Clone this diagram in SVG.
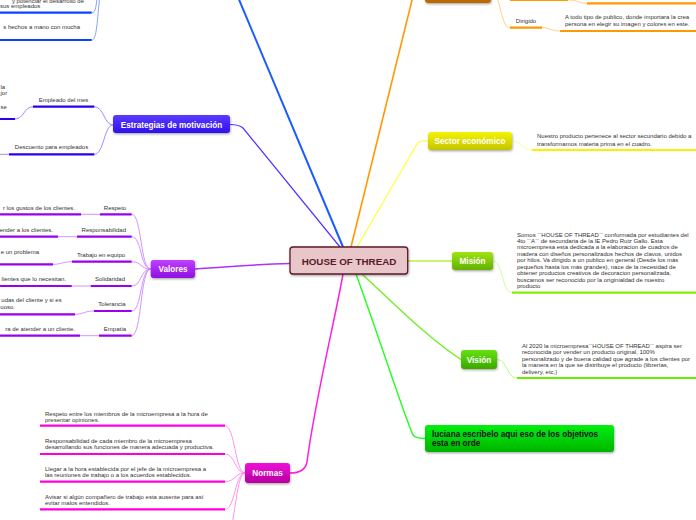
<svg xmlns="http://www.w3.org/2000/svg" width="696" height="520" viewBox="0 0 696 520">
<defs>
<linearGradient id="gBlue" x1="0" y1="0" x2="0" y2="1"><stop offset="0" stop-color="#5a3cff"/><stop offset="1" stop-color="#3010ee"/></linearGradient>
<linearGradient id="gPurple" x1="0" y1="0" x2="0" y2="1"><stop offset="0" stop-color="#c040ff"/><stop offset="1" stop-color="#8f10e0"/></linearGradient>
<linearGradient id="gPink" x1="0" y1="0" x2="0" y2="1"><stop offset="0" stop-color="#f010d8"/><stop offset="1" stop-color="#b800a0"/></linearGradient>
<linearGradient id="gYellow" x1="0" y1="0" x2="0" y2="1"><stop offset="0" stop-color="#f4f400"/><stop offset="1" stop-color="#c4c400"/></linearGradient>
<linearGradient id="gMision" x1="0" y1="0" x2="0" y2="1"><stop offset="0" stop-color="#a0e410"/><stop offset="1" stop-color="#62b000"/></linearGradient>
<linearGradient id="gVision" x1="0" y1="0" x2="0" y2="1"><stop offset="0" stop-color="#66e010"/><stop offset="1" stop-color="#3aa800"/></linearGradient>
<linearGradient id="gGreen" x1="0" y1="0" x2="0" y2="1"><stop offset="0" stop-color="#00f010"/><stop offset="1" stop-color="#00b400"/></linearGradient>
<linearGradient id="gOrange" x1="0" y1="0" x2="0" y2="1"><stop offset="0" stop-color="#d88000"/><stop offset="1" stop-color="#b86800"/></linearGradient>
<filter id="sh" x="-10%" y="-20%" width="120%" height="160%"><feDropShadow dx="0.6" dy="1.2" stdDeviation="0.8" flood-color="#000" flood-opacity="0.35"/></filter>
</defs>
<style>
.t{font-family:"Liberation Sans",Arial,sans-serif;font-size:6px;fill:#333}
.lb{font-family:"Liberation Sans",Arial,sans-serif;font-size:6px;fill:#333;text-anchor:middle}
.n{font-family:"Liberation Sans",Arial,sans-serif;font-size:8.2px;font-weight:bold;fill:#fff;text-anchor:middle}
.c{fill:none}
.ul{fill:none;stroke-width:2.2}
.sc{fill:none;stroke-width:0.9}
</style>
<rect width="696" height="520" fill="#fff"/>

<g id="connectors">
<path class="c" d="M343,247 L235,-10" stroke="#1a5cff" stroke-width="2"/>
<path class="c" d="M351,247 L414,-8" stroke="#ff9900" stroke-width="1.6"/>
<path class="c" d="M340,247 L243,128 Q239,124.5 230,124.5" stroke="#5533ff" stroke-width="1.2"/>
<path class="c" d="M357,247 L417,144 Q419,141 424,141 L428,141" stroke="#ffff33" stroke-width="1.2"/>
<path class="c" d="M407.7,261 L452,261" stroke="#b8ee44" stroke-width="1.6"/>
<path class="c" d="M362,274 C390,300 430,340 461,359.5" stroke="#70ee20" stroke-width="1.3"/>
<path class="c" d="M356,274 C380,340 405,418 413,435 Q416,438.5 425,438.5" stroke="#22ff22" stroke-width="1.4"/>
<path class="c" d="M343,274 C335,320 315,400 307,462 Q305,473 290,473" stroke="#ff22dd" stroke-width="1.5"/>
<path class="c" d="M290,263.5 C250,264.5 225,267.5 195,269" stroke="#b030ff" stroke-width="1.5"/>

<path class="sc" d="M91.7,12.7 C96,12.7 96,5 97.5,-5" stroke="#7799ff"/>
<path class="sc" d="M91.7,40 C97,40 97,20 100,-5" stroke="#7799ff"/>
<path class="ul" d="M0,12.7 H91.7 M0,40 H91.7" stroke="#0a44ff"/>

<path class="sc" d="M491,-8 C501,-8 500,27.7 510,27.7" stroke="#ffcc77"/>
<path class="sc" d="M568,0 C578,0 578,3.3 587,3.3 M542,27.7 C551,27.7 551,31 560,31" stroke="#ffcc77"/>
<path class="ul" d="M510,0 H568 M587,3.3 H696 M510,27.7 H542 M560,31 H696" stroke="#ff9900"/>

<path class="sc" d="M94.3,106.7 C104,106.7 104,125 113,125 M94.3,154.3 C104,154.3 104,125 113,125" stroke="#8f80ff"/>
<path class="sc" d="M15,119 C24,119 24,106.7 33,106.7 M0,154.3 H9" stroke="#8f80ff"/>
<path class="ul" d="M33,106.7 H94.3 M9,154.3 H94.3 M0,119 H15" stroke="#2a00ee"/>

<path class="sc" d="M512,141 C522,141 522,150 532,150" stroke="#ffff77"/>
<path class="ul" d="M532,150 H696" stroke="#ffee00"/>

<path class="sc" d="M493,261 C503,261 502,292.7 512,292.7" stroke="#ccff88"/>
<path class="ul" d="M512,292.7 H696" stroke="#88ee00"/>
<path class="sc" d="M497,359.5 C507,359.5 507,378 517,378" stroke="#aaff66"/>
<path class="ul" d="M517,378 H696" stroke="#66ee00"/>

<path class="sc" d="M131.7,214.3 C142,214.3 140,269 150.7,269 M131.7,236.7 C142,236.7 140,269 150.7,269 M131.7,261.7 C142,261.7 140,269 150.7,269 M131.7,286 C142,286 140,269 150.7,269 M131.7,311 C142,311 140,269 150.7,269 M131.7,335.7 C142,335.7 140,269 150.7,269" stroke="#cc88ff"/>
<path class="sc" d="M81,214.3 H100 M58,236.7 H77 M53,264.3 C62,264.3 62,261.7 72,261.7 M71.7,286 H90.7 M75,314.3 C84,314.3 84,311 94,311 M80,335.7 H99" stroke="#cc88ff"/>
<path class="ul" d="M100,214.3 H131.7 M77,236.7 H131.7 M72,261.7 H131.7 M90.7,286 H131.7 M94,311 H131.7 M99,335.7 H131.7 M0,214.3 H81 M0,236.7 H58 M0,264.3 H53 M0,286 H71.7 M0,314.3 H75 M0,335.7 H80" stroke="#9a00ee"/>

<path class="sc" d="M245,473 C235,473 235,425.7 225,425.7 M245,473 C235,473 235,454 225,454 M245,473 C235,473 235,481.7 225,481.7 M245,473 C235,473 235,509.3 225,509.3 M245,473 C235,473 235,540 225,540" stroke="#ff88ee"/>
<path class="ul" d="M40,425.7 H225 M40,454 H225 M40,481.7 H225 M40,509.3 H225" stroke="#ff00dd"/>
</g>

<g id="center">
<rect x="290" y="247" width="117.7" height="27" rx="3" fill="#e8c6ca" stroke="#5c1a28" stroke-width="1.3" filter="url(#sh)"/>
<text x="349" y="264.6" font-family="Liberation Sans, Arial, sans-serif" font-size="9.8" font-weight="bold" fill="#5a1a28" text-anchor="middle">HOUSE OF THREAD</text>
</g>

<g id="node-orange">
<rect x="425" y="-15" width="66" height="18" rx="3" fill="url(#gOrange)" filter="url(#sh)"/>
</g>
<g id="orange-children">
<text class="lb" x="526" y="22.7">Dirigido</text>
<text class="t" x="565" y="18.7">A todo tipo de publico, donde importara la crea</text>
<text class="t" x="565" y="26">persona en elegir su imagen y colores en este.</text>
</g>

<g id="blue-children">
<text class="t" x="84" y="2.5" text-anchor="end">y potenciar el desarrollo de</text>
<text class="t" x="0" y="8">sus empleados</text>
<text class="t" x="80" y="28.7" text-anchor="end">s hechos a mano con mucha</text>
</g>

<g id="node-estrategias">
<rect x="113" y="115" width="117" height="18" rx="3" fill="url(#gBlue)" filter="url(#sh)"/>
<text class="n" x="171.5" y="127.8">Estrategias de motivación</text>
</g>
<g id="estrategias-children">
<text class="lb" x="63.5" y="102">Empleado del mes</text>
<text class="lb" x="51.5" y="148.7">Descuento para empleados</text>
<text class="t" x="0.5" y="88.7">la</text>
<text class="t" x="0.5" y="95.3">jor</text>
<text class="t" x="0.5" y="108.7">se</text>
</g>

<g id="node-sector">
<rect x="428" y="132" width="84" height="18" rx="3" fill="url(#gYellow)" filter="url(#sh)"/>
<text class="n" x="470" y="143.9">Sector económico</text>
</g>
<g id="sector-child">
<text class="t" x="537" y="138">Nuestro producto pertenece al sector secundario debido a</text>
<text class="t" x="537" y="145.7">transformamos materia prima en el cuadro.</text>
</g>

<g id="node-mision">
<rect x="452" y="252" width="41" height="18" rx="3" fill="url(#gMision)" filter="url(#sh)"/>
<text class="n" x="472.5" y="263.9">Misión</text>
</g>
<g id="mision-child">
<text class="t" x="517" y="236.5">Somos ``HOUSE OF THREAD`` conformada por estudiantes del</text>
<text class="t" x="517" y="242.8">4to ``A`` de secundaria de la IE Pedro Ruiz Gallo. Esta</text>
<text class="t" x="517" y="249.2">microempresa esta dedicada a la elaboracion de cuadros de</text>
<text class="t" x="517" y="255.6">madera con diseños personalizados hechos de clavos, unidos</text>
<text class="t" x="517" y="262">por hilos. Va dirigido a un publico en general (Desde los más</text>
<text class="t" x="517" y="268.6">pequeños hasta los más grandes), nace de la necesidad de</text>
<text class="t" x="517" y="275.2">obtener productos creativos de decoracion personalizada,</text>
<text class="t" x="517" y="281.8">buscamos ser reconocido por la originialdad de nuestro</text>
<text class="t" x="517" y="288.2">producto</text>
</g>

<g id="node-vision">
<rect x="461" y="350" width="36" height="19" rx="3" fill="url(#gVision)" filter="url(#sh)"/>
<text class="n" x="479" y="362.6">Visión</text>
</g>
<g id="vision-child">
<text class="t" x="522" y="348.2">Al 2020 la microempresa``HOUSE OF THREAD`` aspira ser</text>
<text class="t" x="522" y="354">reconocida por vender un producto original, 100%</text>
<text class="t" x="522" y="360.5">personalizado y de buena calidad que agrade a los clientes por</text>
<text class="t" x="522" y="367">la manera en la que se distribuye el producto (librerías,</text>
<text class="t" x="522" y="373.7">delivery, etc,)</text>
</g>

<g id="node-objetivos">
<rect x="425" y="425" width="189" height="27" rx="3" fill="url(#gGreen)" filter="url(#sh)"/>
<text x="432" y="437" font-family="Liberation Sans, Arial, sans-serif" font-size="8.2" font-weight="bold" fill="#111">luciana escribelo aqui eso de los objetivos</text>
<text x="432" y="446.2" font-family="Liberation Sans, Arial, sans-serif" font-size="8.2" font-weight="bold" fill="#111">esta en orde</text>
</g>

<g id="node-valores">
<rect x="150.7" y="260" width="44.3" height="18" rx="3" fill="url(#gPurple)" filter="url(#sh)"/>
<text class="n" x="173" y="271.9">Valores</text>
</g>
<g id="valores-children">
<text class="lb" x="115" y="209.7">Respeto</text>
<text class="lb" x="103.8" y="232">Responsabilidad</text>
<text class="lb" x="101" y="257">Trabajo en equipo</text>
<text class="lb" x="110" y="281.3">Solidaridad</text>
<text class="lb" x="112" y="306.3">Tolerancia</text>
<text class="lb" x="115" y="331.3">Empatía</text>
<text class="t" x="75" y="209.7" text-anchor="end">r los gustos de los clientes.</text>
<text class="t" x="53" y="232" text-anchor="end">ender a los clientes.</text>
<text class="t" x="39" y="253.7" text-anchor="end">e un problema</text>
<text class="t" x="66" y="281.3" text-anchor="end">lientes que lo necesitan.</text>
<text class="t" x="61.7" y="302" text-anchor="end">udas del cliente y si es</text>
<text class="t" x="0.3" y="308.7">uoso.</text>
<text class="t" x="75" y="331.3" text-anchor="end">ra de atender a un cliente.</text>
</g>

<g id="node-normas">
<rect x="245" y="463" width="45" height="20" rx="3" fill="url(#gPink)" filter="url(#sh)"/>
<text class="n" x="267.5" y="476">Normas</text>
</g>
<g id="normas-children">
<text class="t" x="45" y="415.5">Respeto entre los miembros de la microempresa a la hora de</text>
<text class="t" x="45" y="421.5">presentar opiniones.</text>
<text class="t" x="45" y="442.8">Responsabilidad de cada miembro de la microempresa</text>
<text class="t" x="45" y="448.8">desarrollando sus funciones de manera adecuada y productiva.</text>
<text class="t" x="45" y="471">Llegar a la hora establecida por el jefe de la microempresa a</text>
<text class="t" x="45" y="477">las reuniones de trabajo o a los acuerdos establecidos.</text>
<text class="t" x="45" y="498.8">Avisar si algún compañero de trabajo esta ausente para así</text>
<text class="t" x="45" y="504.8">evitar malos entendidos.</text>
</g>
</svg>
